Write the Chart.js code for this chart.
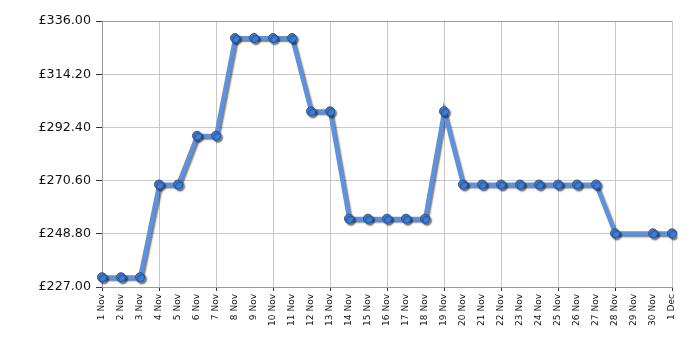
<!DOCTYPE html>
<html>
<head>
<meta charset="utf-8">
<script src="https://cdn.jsdelivr.net/npm/chart.js@4/dist/chart.umd.min.js"></script>
<style>
  html, body { margin: 0; padding: 0; background: #fff; }
  #wrap { width: 700px; height: 350px; }
</style>
</head>
<body>
<div id="wrap"><canvas id="chart"></canvas></div>
<script>
const labels = [
  "1 Nov", "2 Nov", "3 Nov", "4 Nov", "5 Nov", "6 Nov", "7 Nov", "8 Nov",
  "9 Nov", "10 Nov", "11 Nov", "12 Nov", "13 Nov", "14 Nov", "15 Nov",
  "16 Nov", "17 Nov", "18 Nov", "19 Nov", "20 Nov", "21 Nov", "22 Nov",
  "23 Nov", "24 Nov", "25 Nov", "26 Nov", "27 Nov", "28 Nov", "29 Nov",
  "30 Nov", "1 Dec"
];

// price per day, 29 Nov has no reading
const prices = [
  230.99, 230.99, 230.99, 268.99, 268.99, 288.99, 288.99, 328.99,
  328.99, 328.99, 328.99, 298.99, 298.99, 254.99, 254.99,
  254.99, 254.99, 254.99, 298.99, 268.99, 268.99, 268.99,
  268.99, 268.99, 268.99, 268.99, 268.99, 248.99, null,
  248.99, 248.99
];

const yTicks = [227.0, 248.8, 270.6, 292.4, 314.2, 336.0];

const shadowPlugin = {
  id: "lineShadow",
  beforeDatasetDraw(chart) {
    const ctx = chart.ctx;
    ctx.save();
    ctx.shadowColor = "rgba(0,0,0,0.5)";
    ctx.shadowOffsetX = 2;
    ctx.shadowOffsetY = 2;
    ctx.shadowBlur = 1.5;
  },
  afterDatasetDraw(chart) {
    chart.ctx.restore();
  },
};

new Chart(document.getElementById("chart"), {
  type: "line",
  data: {
    labels: labels,
    datasets: [
      {
        data: prices,
        borderColor: "#5a93e6",
        borderWidth: 4,
        tension: 0,
        spanGaps: true,
        pointRadius: 4.5,
        pointBackgroundColor: "#3e7dd8",
        pointBorderColor: "#27569e",
        pointBorderWidth: 1,
      },
    ],
  },
  options: {
    responsive: true,
    maintainAspectRatio: false,
    animation: false,
    layout: { padding: { top: 21, right: 28, left: 0, bottom: 0 } },
    plugins: {
      legend: { display: false },
      tooltip: { enabled: false },
    },
    scales: {
      x: {
        offset: false,
        afterFit: (scale) => { scale.height = 63; },
        border: { color: "#999", width: 1 },
        grid: {
          color: (c) => (c.index % 3 === 0 ? "#c8c8c8" : "rgba(0,0,0,0)"),
          tickColor: (c) => (c.index % 3 === 0 ? "#333" : "rgba(0,0,0,0)"),
          tickLength: 4,
        },
        ticks: {
          autoSkip: false,
          minRotation: 90,
          maxRotation: 90,
          padding: 3,
          color: "#111",
          font: { family: "DejaVu Sans", size: 9 },
        },
      },
      y: {
        min: 227,
        max: 336,
        afterFit: (scale) => { scale.width = 102; },
        afterBuildTicks: (scale) => {
          scale.ticks = yTicks.map((v) => ({ value: v }));
        },
        border: { color: "#999", width: 1 },
        grid: {
          color: (c) => (c.index === yTicks.length - 1 ? "#999" : "#c8c8c8"),
          tickColor: "#333",
          tickLength: 6,
        },
        ticks: {
          padding: 5,
          color: "#111",
          font: { family: "DejaVu Sans", size: 12.7 },
          callback: (v) => "£" + Number(v).toFixed(2),
        },
      },
    },
  },
  plugins: [shadowPlugin],
});
</script>
</body>
</html>
